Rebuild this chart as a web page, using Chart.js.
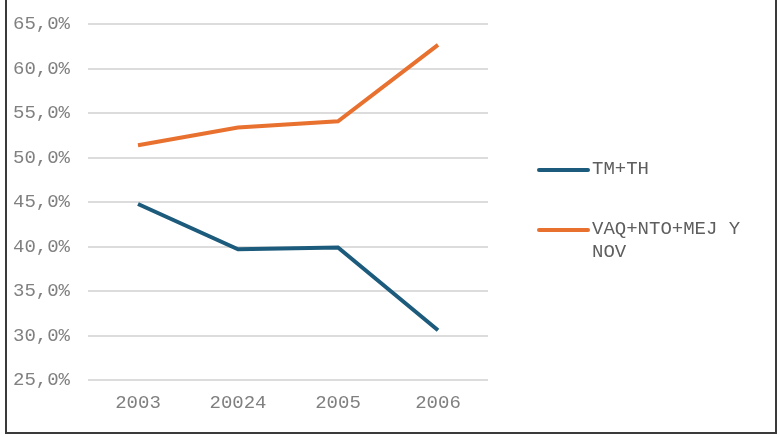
<!DOCTYPE html>
<html>
<head>
<meta charset="utf-8">
<script src="https://cdn.jsdelivr.net/npm/chart.js@4"></script>
<style>
  html, body { margin: 0; padding: 0; background: #fff; overflow: hidden; }
  #frame {
    position: absolute; left: 5px; top: -2px; width: 768px; height: 432px;
    border: 2px solid #3a3a3a; box-sizing: content-box; z-index: 2;
  }
  #wrap { position: absolute; left: 0; top: -5px; width: 780px; height: 442px; }
  #legend {
    position: absolute; left: 537px; top: 158px;
    font-family: "Liberation Mono", monospace; font-size: 19px; color: #5e5e5e;
  }
  .item { position: relative; padding-left: 55px; line-height: 23px; width: 190px; }
  .item .swatch { position: absolute; left: 0; top: 10px; width: 53px; height: 4px; border-radius: 2px; }
</style>
</head>
<body>
<div id="wrap"><canvas id="chart" width="780" height="442"></canvas></div>
<div id="frame"></div>
<div id="legend"></div>
<script>
// datos
var categorias = ['2003', '20024', '2005', '2006'];
var serieTM = [44.8, 39.7, 39.9, 30.6];
var serieVAQ = [51.4, 53.4, 54.1, 62.7];
var nombres = ['TM+TH', 'VAQ+NTO+MEJ Y NOV'];
var colores = ['#1c5b7b', '#e8712f'];

var fuente = '"Liberation Mono", monospace';

var ctx = document.getElementById('chart').getContext('2d');
var grafico = new Chart(ctx, {
    type: 'line',
    data: {
        labels: categorias,
        datasets: [{
            label: nombres[0],
            data: serieTM,
            borderColor: colores[0],
            backgroundColor: colores[0],
            borderWidth: 4,
            pointRadius: 0,
            tension: 0
        }, {
            label: nombres[1],
            data: serieVAQ,
            borderColor: colores[1],
            backgroundColor: colores[1],
            borderWidth: 4,
            pointRadius: 0,
            tension: 0
        }]
    },
    options: {
        responsive: false,
        animation: false,
        layout: { padding: { top: 18, right: 292, left: 0, bottom: 0 } },
        scales: {
            x: {
                offset: true,
                grid: { display: false, drawTicks: false },
                border: { display: false },
                ticks: { color: '#808080', padding: 12, font: { family: fuente, size: 19 } },
                afterFit: function (scale) { scale.height = 57; }
            },
            y: {
                min: 25,
                max: 65,
                grid: { color: '#dcdcdc', lineWidth: 2, drawTicks: false },
                border: { display: false },
                ticks: {
                    stepSize: 5,
                    padding: 18,
                    color: '#808080',
                    font: { family: fuente, size: 19 },
                    callback: function (v) { return v.toFixed(1).replace('.', ',') + '%'; }
                },
                afterFit: function (scale) { scale.width = 88; }
            }
        },
        plugins: {
            legend: { display: false },
            tooltip: { enabled: false }
        }
    }
});

// leyenda HTML (el texto largo se parte en dos líneas)
var leyendaHtml = '';
nombres.forEach(function (n, i) {
    leyendaHtml += '<div class="item" style="margin-bottom:' + (i === 0 ? 37 : 0) + 'px">' +
        '<span class="swatch" style="background:' + colores[i] + '"></span>' + n + '</div>';
});
document.getElementById('legend').innerHTML = leyendaHtml;
</script>
</body>
</html>
